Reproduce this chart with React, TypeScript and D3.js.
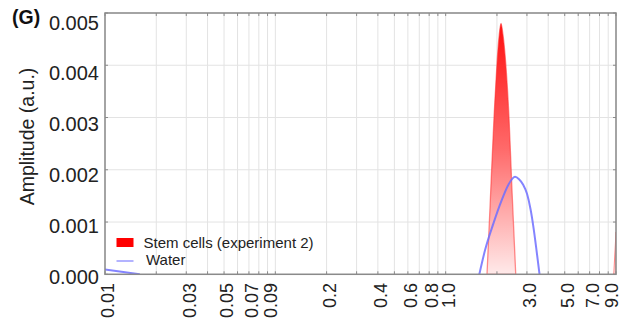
import React from "react";
import * as d3 from "d3";

const W = 623;
const H = 324;

// Log-scale x-axis tick labels
const xTickValues = [0.01, 0.03, 0.05, 0.07, 0.09, 0.2, 0.4, 0.6, 0.8, 1.0, 3.0, 5.0, 7.0, 9.0];
const xTickLabels = ["0.01", "0.03", "0.05", "0.07", "0.09", "0.2", "0.4", "0.6", "0.8", "1.0", "3.0", "5.0", "7.0", "9.0"];

const yTickValues = [0, 0.001, 0.002, 0.003, 0.004, 0.005];
const yTickLabels = ["0.000", "0.001", "0.002", "0.003", "0.004", "0.005"];

// Stem cells (experiment 2) — main peak
const stemPeak: [number, number][] = [
  [1.7486, 0], [1.8209, 0.00128], [1.9222, 0.003], [2.0018, 0.00404], [2.0622, 0.00458],
  [2.113, 0.0048], [2.1709, 0.00458], [2.2516, 0.00404], [2.3543, 0.003], [2.4522, 0.0016],
  [2.578, 0],
];
// Stem cells — rising edge at the right border
const stemEdge: [number, number][] = [[9.7, 0], [10, 0.00081]];

// Water
const water: [number, number | null][] = [
  [0.01, 0.00009], [0.0125, 0.00005], [0.016, 0], [0.5, null],
  [1.576, 0], [1.702, 0.00046], [1.905, 0.00097], [2.133, 0.00142], [2.332, 0.00171],
  [2.554, 0.001865], [2.695, 0.00182], [2.845, 0.00172], [3.003, 0.00154], [3.148, 0.00125],
  [3.28, 0.00089], [3.415, 0.00046], [3.556, 0],
];

const legendLabels = ["Stem cells (experiment 2)", "Water"];

export default function App() {
  const left = 105, right = 616, top = 13, bottom = 274.3;
  const xs = d3.scaleLog().domain([0.01, 10]).range([left, right]);
  const ys = d3.scaleLinear().domain([0, 0.005]).range([bottom, top]);
  const yLabelPos = d3.scaleLinear().domain([0, 0.005]).range([bottom + 2.5, top + 9.5]);

  const area = d3
    .area<[number, number]>()
    .x((d) => xs(d[0]))
    .y0(ys(0))
    .y1((d) => ys(d[1]))
    .curve(d3.curveMonotoneX);

  const line = d3
    .line<[number, number | null]>()
    .defined((d) => d[1] != null)
    .x((d) => xs(d[0]))
    .y((d) => ys(d[1] as number))
    .curve(d3.curveMonotoneX);

  const gridX = xs.ticks();
  const font = "'Liberation Sans', Arial, sans-serif";

  return (
    <>
      <style>{"body{margin:0}"}</style>
      <svg width={W} height={H} style={{ display: "block", background: "#fff" }} fontFamily={font}>
        <defs>
          <linearGradient id="redGrad" gradientUnits="userSpaceOnUse" x1="0" x2="0" y1={ys(0.0048)} y2={ys(0)}>
            <stop offset="0" stopColor="#ff0f0f" />
            <stop offset="0.5" stopColor="#ff6a6a" />
            <stop offset="1" stopColor="#ffeaea" />
          </linearGradient>
          <clipPath id="plotClip">
            <rect x={left} y={top} width={right - left} height={bottom - top} />
          </clipPath>
        </defs>

        {/* grid */}
        {gridX.map((t, i) => (
          <line key={"gx" + i} x1={xs(t)} x2={xs(t)} y1={top} y2={bottom} stroke="#e3e3e3" strokeWidth={1} />
        ))}
        {yTickValues.map((t, i) => (
          <line key={"gy" + i} x1={left} x2={right} y1={ys(t)} y2={ys(t)} stroke="#e3e3e3" strokeWidth={1} />
        ))}

        {/* data */}
        <g clipPath="url(#plotClip)">
          <path d={area(stemPeak) || ""} fill="url(#redGrad)" stroke="rgba(255,50,50,0.55)" strokeWidth={1.3} />
          <path d={area(stemEdge) || ""} fill="url(#redGrad)" stroke="rgba(255,50,50,0.55)" strokeWidth={1} />
          <path d={line(water) || ""} fill="none" stroke="#6f6fff" strokeOpacity={0.85} strokeWidth={2} />
        </g>

        {/* frame */}
        <rect x={left} y={top} width={right - left} height={bottom - top} fill="none" stroke="#8a8a8a" strokeWidth={1.5} />
        {gridX.map((t, i) => (
          <g key={"tk" + i}>
            <line x1={xs(t)} x2={xs(t)} y1={bottom} y2={bottom - 3} stroke="#8a8a8a" strokeWidth={1} />
            <line x1={xs(t)} x2={xs(t)} y1={top} y2={top + 3} stroke="#8a8a8a" strokeWidth={1} />
          </g>
        ))}
        {yTickValues.map((t, i) => (
          <g key={"ty" + i}>
            <line x1={left} x2={left + 3} y1={ys(t)} y2={ys(t)} stroke="#8a8a8a" strokeWidth={1} />
            <line x1={right} x2={right - 3} y1={ys(t)} y2={ys(t)} stroke="#8a8a8a" strokeWidth={1} />
          </g>
        ))}

        {/* y tick labels */}
        {yTickValues.map((t, i) => (
          <text key={"yl" + i} x={99} y={yLabelPos(t)} dy="0.35em" textAnchor="end" fontSize={20} fill="#222">
            {yTickLabels[i]}
          </text>
        ))}

        {/* x tick labels */}
        {xTickValues.map((t, i) => (
          <text
            key={"xl" + i}
            transform={`translate(${xs(t) + 3},283) rotate(-90)`}
            dy="0.35em"
            textAnchor="end"
            fontSize={18}
            fill="#222"
          >
            {xTickLabels[i]}
          </text>
        ))}

        {/* y axis title */}
        <text transform={`translate(27,${(68 + 205) / 2}) rotate(-90)`} dy="0.35em" textAnchor="middle" fontSize={19.5} fill="#222">
          Amplitude (a.u.)
        </text>

        {/* panel label */}
        <text x={12} y={24} fontSize={19.5} fontWeight="bold" fill="#111">
          (G)
        </text>

        {/* legend */}
        <rect x={116.5} y={238} width={17} height={9} fill="#ff0000" />
        <text x={143.5} y={242.5} dy="0.35em" fontSize={15} fill="#222">
          {legendLabels[0]}
        </text>
        <line x1={116.5} x2={133.5} y1={261} y2={261} stroke="#9a9aff" strokeWidth={1.5} />
        <text x={146} y={259.5} dy="0.35em" fontSize={15} fill="#222">
          {legendLabels[1]}
        </text>
      </svg>
    </>
  );
}
